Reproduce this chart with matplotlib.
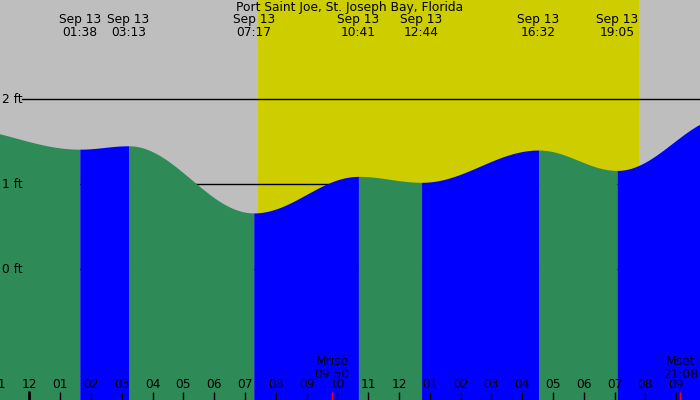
import matplotlib
matplotlib.use("Agg")
import matplotlib.pyplot as plt
import numpy as np

# tide extremes (hours after midnight, feet); first and last are off-chart
tide_hours = [-2.5, 1 + 38/60, 3 + 13/60, 7 + 17/60, 10 + 41/60, 12 + 44/60, 16 + 32/60, 19 + 5/60, 22.68]
tide_feet = [1.67, 1.41, 1.45, 0.66, 1.09, 1.02, 1.40, 1.16, 1.80]
tide_labels = ["01:38", "03:13", "07:17", "10:41", "12:44", "16:32", "19:05"]

sunrise, sunset = 7 + 25/60, 19 + 48/60
moon_events = [("Mrise", "09:50", 9 + 50/60), ("Mset", "21:08", 21 + 8/60)]

title = "Port Saint Joe, St. Joseph Bay, Florida"
date_label = "Sep 13"
hour_ticks = list(range(-1, 22))
ft_levels = [2, 1, 0]

W, H = 700, 400
x0, x1 = -0.958, 21.776
y0, y1 = -1.541, 3.165
fs = 8.8

plt.rcParams['font.family'] = ['DejaVu Sans']
fig = plt.figure(figsize=(7, 4), dpi=100)
ax = fig.add_axes([0, 0, 1, 1])
ax.set_xlim(x0, x1)
ax.set_ylim(y0, y1)
ax.axis('off')
ax.add_patch(plt.Rectangle((x0, y0), x1 - x0, y1 - y0, color='#BEBEBE', zorder=0))
ax.axvspan(sunrise, sunset, color='#CDCD00', zorder=0.5, lw=0)

for lvl in ft_levels:
    ax.axhline(lvl, xmin=22/W, xmax=1, color='black', lw=1, zorder=1)
    ax.text(2/W, lvl, f"{lvl} ft", transform=ax.get_yaxis_transform(),
            ha='left', va='center', fontsize=fs, zorder=3)

# tide curve, cosine between extremes
for i in range(len(tide_hours) - 1):
    ta, tb = tide_hours[i], tide_hours[i + 1]
    ha_, hb = tide_feet[i], tide_feet[i + 1]
    t = np.linspace(ta, tb, 200)
    h = ha_ + (hb - ha_) * (1 - np.cos(np.pi * (t - ta) / (tb - ta))) / 2
    col = '#0000FF' if hb > ha_ else '#2E8B57'
    ax.fill_between(t, y0 - 0.1, h, color=col, lw=0, zorder=2)

xt = ax.get_xaxis_transform()
ax.text((x0 + x1) / 2, 1 - 7/H, title, transform=xt, ha='center', va='center', fontsize=fs, zorder=3)
for lab, t in zip(tide_labels, tide_hours[1:-1]):
    ax.text(t, 1 - 20/H, date_label, transform=xt, ha='center', va='center', fontsize=fs, zorder=3)
    ax.text(t, 1 - 32/H, lab, transform=xt, ha='center', va='center', fontsize=fs, zorder=3)

for hr in hour_ticks:
    lab = f"{(hr - 1) % 12 + 1:02d}"
    ax.text(hr, 1 - 385/H, lab, transform=xt, ha='center', va='center', fontsize=fs, zorder=3)
    if hr == 0:
        ax.vlines(hr, 0, 9/H, transform=xt, color='black', lw=2, zorder=3)
    else:
        ax.vlines(hr, 0, 8/H, transform=xt, color='black', lw=1, zorder=3)

for name, lab, t in moon_events:
    ax.vlines(t, 0, 8/H, transform=xt, color='red', lw=1, zorder=3)
    ax.text(t, 1 - 361.5/H, name, transform=xt, ha='center', va='center', fontsize=fs, zorder=3)
    ax.text(t, 1 - 374/H, lab, transform=xt, ha='center', va='center', fontsize=fs, zorder=3)

fig.savefig("out.png", dpi=100)
